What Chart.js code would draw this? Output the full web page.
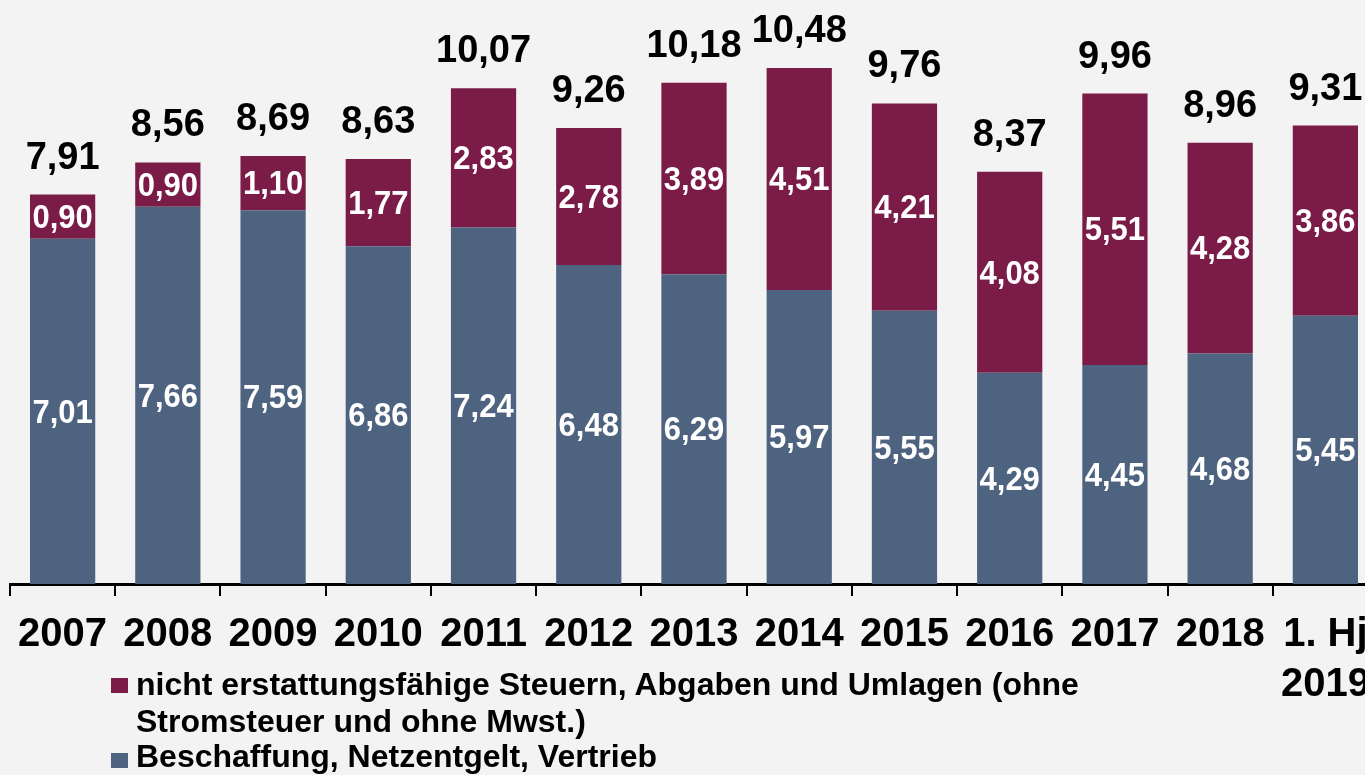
<!DOCTYPE html>
<html>
<head>
<meta charset="utf-8">
<script src="https://cdn.jsdelivr.net/npm/chart.js@4/dist/chart.umd.min.js"></script>
<style>
  html, body { margin: 0; padding: 0; background: #f3f3f3; overflow: hidden; }
  #wrap { position: relative; width: 1365px; height: 775px; overflow: hidden; }
  canvas { position: absolute; left: 0; top: 0; }
  .leg { position: absolute; left: 136px; font: bold 32px "Liberation Sans", Arial, sans-serif; line-height: 37px; color: #000; white-space: nowrap; }
  .box { position: absolute; left: 111px; width: 17px; height: 15px; }
</style>
</head>
<body>
<div id="wrap">
  <canvas id="chart" width="1380" height="775"></canvas>
  <div class="box" style="top:678px; background:#7b1c48"></div>
  <div class="leg" style="top:666px">nicht erstattungsfähige Steuern, Abgaben und Umlagen (ohne<br>Stromsteuer und ohne Mwst.)</div>
  <div class="box" style="top:753px; background:#4e6380"></div>
  <div class="leg" style="top:738px">Beschaffung, Netzentgelt, Vertrieb</div>
</div>
<script>
    const years = ['2007', '2008', '2009', '2010', '2011', '2012', '2013', '2014', '2015', '2016', '2017', '2018', ['1. Hj', '2019']];
    const beschaffung = [7.01, 7.66, 7.59, 6.86, 7.24, 6.48, 6.29, 5.97, 5.55, 4.29, 4.45, 4.68, 5.45];
    const steuern = [0.90, 0.90, 1.10, 1.77, 2.83, 2.78, 3.89, 4.51, 4.21, 4.08, 5.51, 4.28, 3.86];
    const totals = [7.91, 8.56, 8.69, 8.63, 10.07, 9.26, 10.18, 10.48, 9.76, 8.37, 9.96, 8.96, 9.31];

    function fmt(v) {
        return v.toFixed(2).replace('.', ',');
    }

    // white numbers inside the segments, black totals above
    const labelPlugin = {
        id: 'labels',
        afterDatasetsDraw(chart) {
            const ctx = chart.ctx;
            ctx.save();
            ctx.textAlign = 'center';
            chart.data.datasets.forEach(function(ds, i) {
                const meta = chart.getDatasetMeta(i);
                ctx.fillStyle = '#ffffff';
                ctx.font = 'bold 31px "Liberation Sans", Arial, sans-serif';
                ctx.textBaseline = 'middle';
                meta.data.forEach(function(bar, j) {
                    ctx.save();
                    ctx.translate(bar.x, (bar.y + bar.base) / 2 + 2);
                    ctx.scale(1, 1.08);
                    ctx.fillText(fmt(ds.data[j]), 0, 0);
                    ctx.restore();
                });
            });
            const top = chart.getDatasetMeta(1);
            ctx.fillStyle = '#000000';
            ctx.font = 'bold 38px "Liberation Sans", Arial, sans-serif';
            ctx.textBaseline = 'alphabetic';
            top.data.forEach(function(bar, j) {
                ctx.fillText(fmt(totals[j]), bar.x, bar.y - 26);
            });
            ctx.restore();
        }
    };

    const ctx = document.getElementById('chart').getContext('2d');
    const chart = new Chart(ctx, {
        type: 'bar',
        data: {
            labels: years,
            datasets: [{
                label: 'Beschaffung, Netzentgelt, Vertrieb',
                data: beschaffung,
                backgroundColor: '#4e6380',
                barPercentage: 0.62,
                categoryPercentage: 1
            }, {
                label: 'nicht erstattungsfähige Steuern, Abgaben und Umlagen (ohne Stromsteuer und ohne Mwst.)',
                data: steuern,
                backgroundColor: '#7b1c48',
                barPercentage: 0.62,
                categoryPercentage: 1
            }]
        },
        options: {
            responsive: false,
            animation: false,
            layout: { padding: { left: 10, right: 2, top: 0, bottom: 0 } },
            plugins: { legend: { display: false }, tooltip: { enabled: false } },
            scales: {
                x: {
                    stacked: true,
                    afterFit: function(s) {
                        s.height = 191;
                        s.paddingLeft = 0;
                        s.paddingRight = 0;
                    },
                    grid: { offset: true, drawOnChartArea: false, color: '#000', lineWidth: 2, tickLength: 12 },
                    border: { display: true, color: '#000', width: 3 },
                    ticks: {
                        color: '#000',
                        padding: 14,
                        maxRotation: 0,
                        autoSkip: false,
                        font: { family: '"Liberation Sans", Arial, sans-serif', size: 40, weight: 'bold', lineHeight: 1.25 }
                    }
                },
                y: {
                    stacked: true,
                    display: false,
                    min: 0,
                    max: 11.86
                }
            }
        },
        plugins: [labelPlugin]
    });
</script>
</body>
</html>
